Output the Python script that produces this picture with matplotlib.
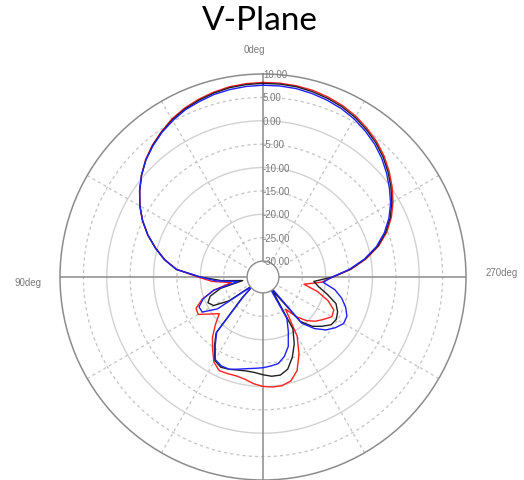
import numpy as np
import matplotlib
matplotlib.use("Agg")
import matplotlib.pyplot as plt

# angle in degrees, 0 at top, increasing counter-clockwise (90deg on the left)
angles = list(range(0, 360, 5))

# gain in dB, one value per angle
red_db = [8.2, 8.1, 7.9, 7.5, 7.0, 6.4, 5.6, 4.5, 3.4, 2.1, 0.5, -1.2, -3.0, -5.0, -7.2, -9.7, -12.1, -14.9,
          -19.5, -22.5, -26.5, -22.5, -19.6, -17.6, -17.4, -19.6, -21.2, -19.0, -16.6, -14.6,
          -12.4, -11.3, -11.4, -11.5, -11.2, -10.5, -10.0, -9.8, -9.8, -10.4, -12.1, -15.2, -18.8, -25.0,
          -22.3, -20.2, -18.7, -17.6, -16.4, -16.7, -18.6, -21.3, -24.5, -20.8,
          -18.4, -14.5, -11.0, -7.8, -5.2, -3.1, -1.3, 0.3, 1.8, 3.2, 4.4, 5.4, 6.3, 7.0, 7.5, 7.9, 8.1, 8.2]
black_db = [8.0, 7.9, 7.7, 7.3, 6.8, 6.2, 5.4, 4.4, 3.3, 2.0, 0.5, -1.2, -3.0, -5.0, -7.2, -9.6, -12.0, -14.8,
            -20.0, -24.5, -29.0, -24.0, -21.4, -20.4, -21.2, -24.5, -31.0, -27.0, -17.8, -15.3,
            -12.8, -12.1, -12.4, -12.8, -13.0, -12.9, -12.5, -12.1, -12.1, -13.0, -15.1, -17.6, -20.6, -30.0,
            -21.0, -18.5, -17.0, -15.6, -15.3, -15.8, -16.8, -19.2, -21.3, -22.5,
            -18.5, -14.7, -11.2, -8.0, -5.5, -3.4, -1.6, 0.0, 1.5, 2.9, 4.1, 5.1, 6.0, 6.7, 7.2, 7.6, 7.9, 8.0]
blue_db = [7.6, 7.5, 7.3, 7.0, 6.5, 6.0, 5.2, 4.3, 3.2, 2.0, 0.5, -1.2, -3.0, -5.0, -7.2, -9.6, -12.0, -14.8,
           -20.0, -23.5, -28.0, -22.5, -19.8, -18.3, -18.4, -21.5, -30.5, -27.5, -18.0, -15.6,
           -13.0, -12.4, -12.4, -13.0, -13.5, -13.8, -14.0, -14.3, -14.6, -15.8, -17.6, -20.6, -23.2, -32.0,
           -20.5, -17.8, -15.8, -14.5, -13.5, -13.6, -14.6, -16.0, -17.8, -20.5,
           -18.6, -14.9, -11.4, -8.3, -5.8, -3.7, -1.9, -0.4, 1.1, 2.5, 3.7, 4.7, 5.6, 6.3, 6.8, 7.2, 7.5, 7.6]

ring_levels = [10, 5, 0, -5, -10, -15, -20, -25, -30]
ring_labels = ["10.00", "5.00", "0.00", "-5.00", "-10.00", "-15.00", "-20.00", "-25.00", "-30.00"]

r_min, r_max = -33.4, 10
label_font = ["Liberation Sans Narrow", "Liberation Sans", "DejaVu Sans"]


def closed(vals):
    return list(vals) + [vals[0]]


fig = plt.figure(figsize=(5.24, 4.81), dpi=100)
ax = fig.add_axes([60 / 524, 0, 406 / 524, 406 / 481], projection="polar")
ax.set_theta_zero_location("N")
ax.set_theta_direction(1)
ax.set_ylim(r_min, r_max)
ax.set_xticks([])
ax.set_yticks([])
ax.grid(False)
ax.spines["polar"].set_color("#8c8c8c")
ax.spines["polar"].set_linewidth(1.1)

# rings
full = np.linspace(0, 2 * np.pi, 361)
for lvl in ring_levels[1:-1]:
    if lvl % 10 == 0:
        ax.plot(full, [lvl] * len(full), color="#d2d2d2", lw=1.0, zorder=1)
    else:
        ax.plot(full, [lvl] * len(full), color="#c4c4c4", lw=0.9, ls=(0, (2.5, 2.5)), zorder=1)

# dashed spokes every 30 degrees, solid axes every 90
for a in range(0, 360, 30):
    th = np.deg2rad(a)
    if a % 90 == 0:
        continue
    ax.plot([th, th], [r_min, r_max], color="#c4c4c4", lw=0.9, ls=(0, (2.5, 2.5)), zorder=1)
ax.plot([0, np.pi], [r_max, r_max], color="#8c8c8c", lw=1.1, zorder=2)
ax.plot([np.pi / 2, 3 * np.pi / 2], [r_max, r_max], color="#8c8c8c", lw=1.1, zorder=2)

th = np.deg2rad(closed(angles))
ax.plot(th, closed(red_db), color="#ff2020", lw=1.0, zorder=3)
ax.plot(th, closed(black_db), color="#202020", lw=1.0, zorder=3)
ax.plot(th, closed(blue_db), color="#2020ff", lw=1.0, zorder=3)

# white hub at -30 dB
ax.fill(full, [-30] * len(full), facecolor="white", edgecolor="#8c8c8c", lw=1.0, zorder=4)

for lvl, lab in zip(ring_levels, ring_labels):
    ax.text(0, lvl, lab, ha="left", va="center", fontsize=7, color="#7a7a7a",
            family=label_font, zorder=6)

fig.text(254 / 524, 1 - 50 / 481, "0deg", ha="center", va="center", fontsize=7,
         color="#7a7a7a", family=label_font)
fig.text(28 / 524, 1 - 283 / 481, "90deg", ha="center", va="center", fontsize=7,
         color="#7a7a7a", family=label_font)
fig.text(502 / 524, 1 - 273 / 481, "270deg", ha="center", va="center", fontsize=7,
         color="#7a7a7a", family=label_font)

fig.text(260 / 524, 1 - 21 / 481, "V-Plane", ha="center", va="center", fontsize=24,
         family=["Lato", "DejaVu Sans"])

fig.savefig("out.png", dpi=100)
